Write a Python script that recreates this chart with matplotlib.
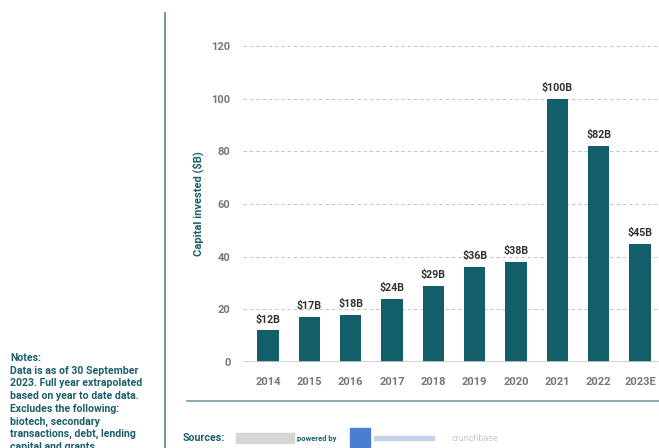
import matplotlib
matplotlib.use("Agg")
import matplotlib.pyplot as plt
from matplotlib.patches import Rectangle
from matplotlib.lines import Line2D

plt.rcParams['font.family'] = ['Roboto', 'DejaVu Sans']

years = ["2014", "2015", "2016", "2017", "2018", "2019", "2020", "2021", "2022", "2023E"]
values = [12, 17, 18, 24, 29, 36, 38, 100, 82, 45]
labels = ["$12B", "$17B", "$18B", "$24B", "$29B", "$36B", "$38B", "$100B", "$82B", "$45B"]
yticks = [0, 20, 40, 60, 80, 100, 120]
notes = ["Notes:", "Data is as of 30 September", "2023. Full year extrapolated",
         "based on year to date data.", "Excludes the following:",
         "biotech, secondary", "transactions, debt, lending", "capital and grants"]

W, H = 659, 448
fig = plt.figure(figsize=(W / 100, H / 100), dpi=100)
teal = "#135f69"
textteal = "#1d5f6c"

ax = fig.add_axes([243 / W, 1 - 362 / H, (659 - 243) / W, (362 - 46) / H])
x = list(range(len(years)))
ax.bar(x, values, width=0.51, color=teal, zorder=3)
for xi, v, lab in zip(x, values, labels):
    ax.text(xi, v + 2.2, lab, ha="center", va="bottom", fontsize=7.7,
            fontweight="bold", color="#333333")
ax.set_xlim(-0.605, 9.46)
ax.set_ylim(0, 120)
ax.set_yticks(yticks)
ax.set_xticks(x)
ax.set_xticklabels(years)
for s in ax.spines.values():
    s.set_visible(False)
ax.grid(axis="y", color="#c4c4c4", linestyle=(0, (3.5, 3)), linewidth=0.7, zorder=0)
ax.axhline(0, color="#cccccc", linewidth=1.2, zorder=4)
ax.tick_params(axis="both", length=0, labelsize=8, labelcolor="#777777")
ax.tick_params(axis="y", pad=9)
ax.tick_params(axis="x", pad=11)
for t in ax.get_xticklabels() + ax.get_yticklabels():
    t.set_fontweight("bold")
ax.set_ylabel("Capital invested ($B)", color=textteal, fontsize=8, fontweight="bold")
ax.yaxis.set_label_coords(-0.094, 0.5)

# decorative lines
fig.add_artist(Line2D([165 / W, 165 / W], [0, 1 - 13 / H], color="#4f8a92", linewidth=1.2))
fig.add_artist(Line2D([187 / W, 1], [1 - 401 / H, 1 - 401 / H], color="#6f9ea5", linewidth=1.2))

# notes
y0 = 358
for i, line in enumerate(notes):
    fig.text(10 / W, 1 - (y0 + i * 12.7) / H, line, fontsize=7.6, fontweight="bold",
             color=textteal, va="center", ha="left")

# sources
fig.text(183 / W, 1 - 438 / H, "Sources:", fontsize=7.7, fontweight="bold", color=textteal, va="center")
fig.add_artist(Rectangle((236 / W, 1 - 443 / H), 58 / W, 10 / H, color="#d6d6d6", transform=fig.transFigure))
fig.text(297 / W, 1 - 438 / H, "powered by", fontsize=5.5, fontweight="bold", color=textteal, va="center")
fig.add_artist(Rectangle((350 / W, 1 - 448 / H), 20 / W, 20 / H, color="#4a7fd0", transform=fig.transFigure))
fig.add_artist(Rectangle((374 / W, 1 - 440 / H), 60 / W, 4 / H, color="#c5d3ea", transform=fig.transFigure))
fig.text(452 / W, 1 - 438 / H, "crunchbase", fontsize=6.5, color="#c8c8c8", va="center")

fig.savefig("out.png", dpi=100)
